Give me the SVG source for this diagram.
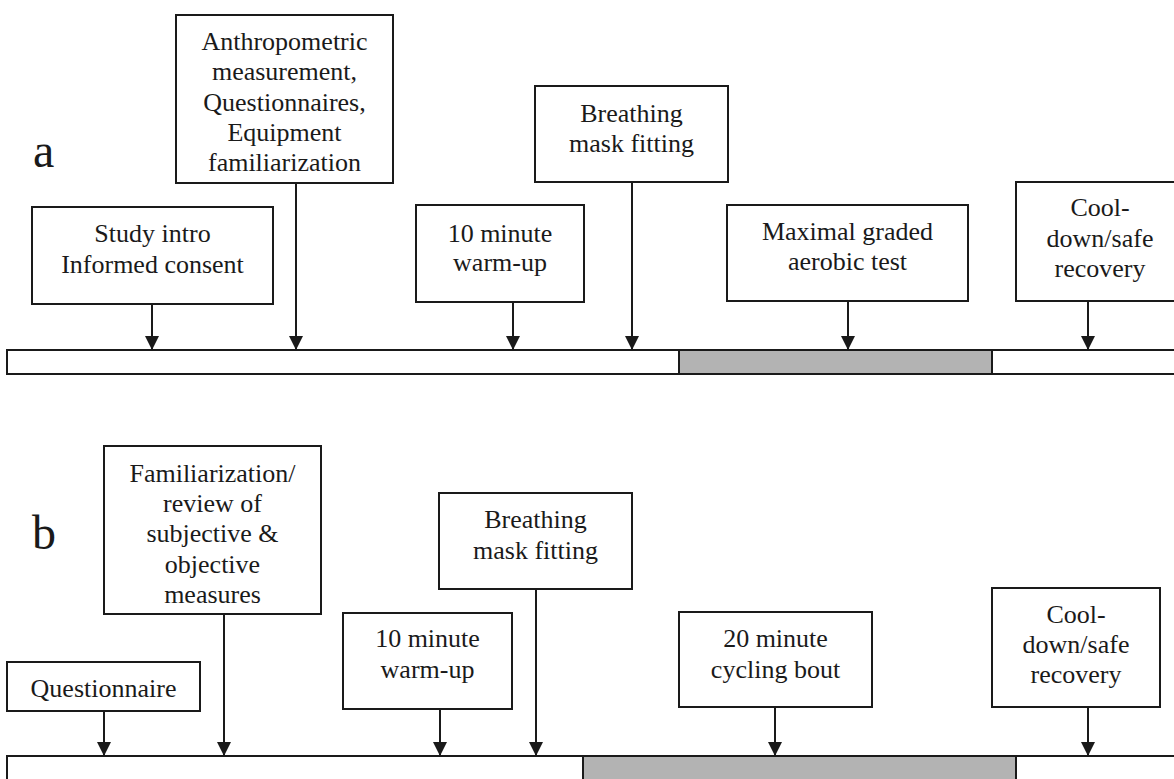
<svg xmlns="http://www.w3.org/2000/svg" width="1174" height="779" viewBox="0 0 1174 779" font-family="'Liberation Serif', 'Times New Roman', serif">
<defs>
<style>
.box{fill:#fff;stroke:#1a1a1a;stroke-width:2}
.bar{fill:#fff;stroke:#1a1a1a;stroke-width:2}
.grey{fill:#b3b3b3;stroke:#1a1a1a;stroke-width:2}
text{font-family:'Liberation Serif','Times New Roman',serif}
.t{font-size:26px;fill:#1a1a1a;text-anchor:middle}
.lbl{font-size:48px;fill:#1a1a1a}
.c{stroke:#1a1a1a;stroke-width:2;fill:none;marker-end:url(#ah)}
</style>
<marker id="ah" markerWidth="14" markerHeight="14" viewBox="0 0 14 14" refX="14" refY="7" orient="auto" markerUnits="userSpaceOnUse">
<path d="M0,0 L14,7 L0,14 Z" fill="#1a1a1a"/>
</marker>
</defs>
<rect width="1174" height="779" fill="#fff"/>

<!-- Panel labels -->
<text class="lbl" x="33" y="167" font-family="Liberation Serif, serif">a</text>
<text class="lbl" x="32" y="549" font-family="Liberation Serif, serif">b</text>

<!-- Timeline bars -->
<g id="timeline-a">
<rect class="bar" x="7" y="350" width="1180" height="24"/>
<rect class="grey" x="679" y="350" width="313" height="24"/>
</g>
<g id="timeline-b">
<rect class="bar" x="7" y="756" width="1180" height="30"/>
<rect class="grey" x="583" y="756" width="433" height="30"/>
</g>

<!-- Connectors -->
<g id="connectors">
<line class="c" x1="152" y1="304" x2="152" y2="350"/>
<line class="c" x1="296" y1="183" x2="296" y2="350"/>
<line class="c" x1="513" y1="302" x2="513" y2="350"/>
<line class="c" x1="632" y1="182" x2="632" y2="350"/>
<line class="c" x1="848" y1="301" x2="848" y2="350"/>
<line class="c" x1="1088" y1="301" x2="1088" y2="350"/>
<line class="c" x1="104" y1="711" x2="104" y2="756"/>
<line class="c" x1="224" y1="614" x2="224" y2="756"/>
<line class="c" x1="440" y1="709" x2="440" y2="756"/>
<line class="c" x1="536" y1="589" x2="536" y2="756"/>
<line class="c" x1="775" y1="707" x2="775" y2="756"/>
<line class="c" x1="1088" y1="707" x2="1088" y2="756"/>
</g>

<!-- Panel a nodes -->
<g id="a-study-intro" font-family="Liberation Serif, serif">
<rect class="box" x="32" y="207" width="241" height="97"/>
<text class="t" x="152.5" y="242">Study intro</text>
<text class="t" x="152.5" y="273">Informed consent</text>
</g>
<g id="a-anthropometric" font-family="Liberation Serif, serif">
<rect class="box" x="176" y="15" width="217" height="168"/>
<text class="t" x="284.5" y="50">Anthropometric</text>
<text class="t" x="284.5" y="80">measurement,</text>
<text class="t" x="284.5" y="111">Questionnaires,</text>
<text class="t" x="284.5" y="141">Equipment</text>
<text class="t" x="284.5" y="171">familiarization</text>
</g>
<g id="a-warmup" font-family="Liberation Serif, serif">
<rect class="box" x="416" y="205" width="168" height="97"/>
<text class="t" x="500" y="242">10 minute</text>
<text class="t" x="500" y="271">warm-up</text>
</g>
<g id="a-mask" font-family="Liberation Serif, serif">
<rect class="box" x="535" y="86" width="193" height="96"/>
<text class="t" x="631.5" y="122">Breathing</text>
<text class="t" x="631.5" y="152">mask fitting</text>
</g>
<g id="a-maximal" font-family="Liberation Serif, serif">
<rect class="box" x="727" y="205" width="241" height="96"/>
<text class="t" x="847.5" y="240">Maximal graded</text>
<text class="t" x="847.5" y="270">aerobic test</text>
</g>
<g id="a-cooldown" font-family="Liberation Serif, serif">
<rect class="box" x="1016" y="182" width="168" height="119"/>
<text class="t" x="1100" y="216">Cool-</text>
<text class="t" x="1100" y="247">down/safe</text>
<text class="t" x="1100" y="277">recovery</text>
</g>

<!-- Panel b nodes -->
<g id="b-questionnaire" font-family="Liberation Serif, serif">
<rect class="box" x="7" y="662" width="193" height="49"/>
<text class="t" x="103.5" y="697">Questionnaire</text>
</g>
<g id="b-familiarization" font-family="Liberation Serif, serif">
<rect class="box" x="104" y="446" width="217" height="168"/>
<text class="t" x="212.5" y="482">Familiarization/</text>
<text class="t" x="212.5" y="512">review of</text>
<text class="t" x="212.5" y="542">subjective &amp;</text>
<text class="t" x="212.5" y="573">objective</text>
<text class="t" x="212.5" y="603">measures</text>
</g>
<g id="b-warmup" font-family="Liberation Serif, serif">
<rect class="box" x="343" y="613" width="169" height="96"/>
<text class="t" x="427.5" y="647">10 minute</text>
<text class="t" x="427.5" y="678">warm-up</text>
</g>
<g id="b-mask" font-family="Liberation Serif, serif">
<rect class="box" x="439" y="493" width="193" height="96"/>
<text class="t" x="535.5" y="528">Breathing</text>
<text class="t" x="535.5" y="559">mask fitting</text>
</g>
<g id="b-cycling" font-family="Liberation Serif, serif">
<rect class="box" x="679" y="612" width="193" height="95"/>
<text class="t" x="775.5" y="647">20 minute</text>
<text class="t" x="775.5" y="678">cycling bout</text>
</g>
<g id="b-cooldown" font-family="Liberation Serif, serif">
<rect class="box" x="992" y="588" width="168" height="119"/>
<text class="t" x="1076" y="623">Cool-</text>
<text class="t" x="1076" y="653">down/safe</text>
<text class="t" x="1076" y="683">recovery</text>
</g>
</svg>
